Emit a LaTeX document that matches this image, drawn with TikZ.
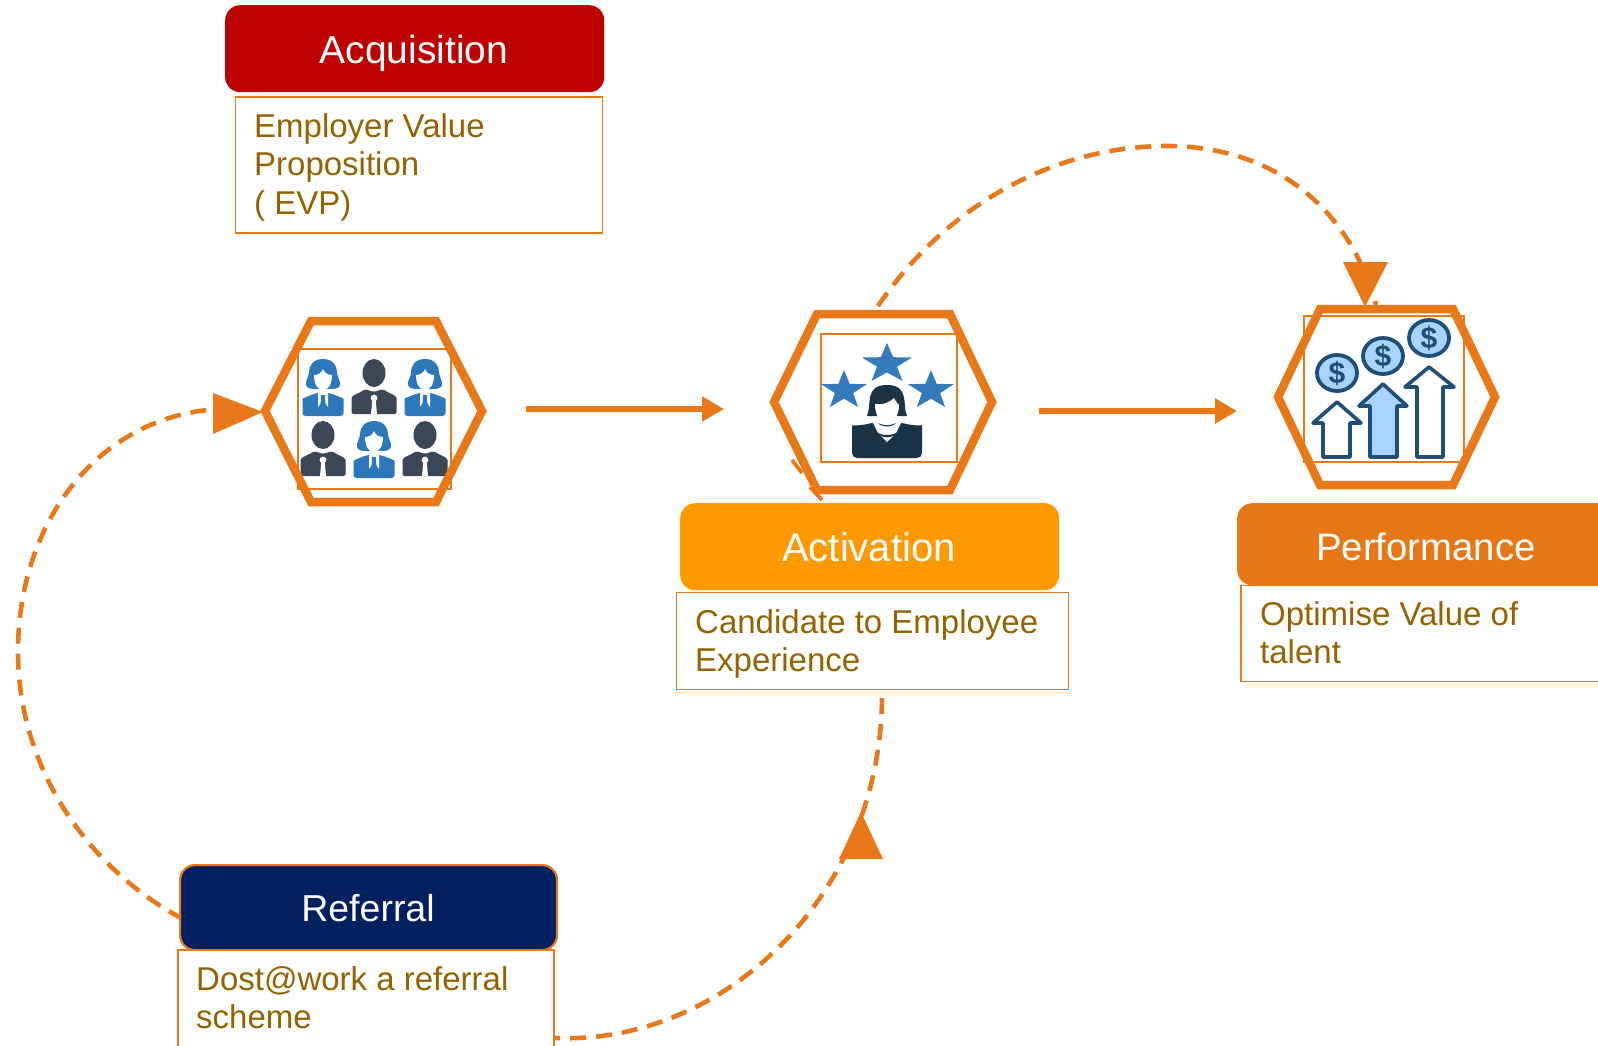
\documentclass[tikz,border=0pt]{standalone}
\usepackage{fontspec}
\setmainfont{Liberation Sans}
\usetikzlibrary{arrows.meta,shapes.geometric}
\definecolor{orangeline}{HTML}{E87818}
\definecolor{bodytext}{HTML}{946300}
\definecolor{acqred}{HTML}{BD0000}
\definecolor{actamber}{HTML}{FF9900}
\definecolor{perforange}{HTML}{E57716}
\definecolor{refnavy}{HTML}{002060}
\definecolor{peopleblue}{HTML}{2C78BA}
\definecolor{peopledark}{HTML}{3B4656}
\definecolor{starblue}{HTML}{357ABA}
\definecolor{persondark}{HTML}{1B3347}
\definecolor{moneyline}{HTML}{1F4E79}
\definecolor{moneyfill}{HTML}{A6D4FF}
\tikzset{
  x=1pt,y=-1pt,
  titlebox/.style={rounded corners=15pt,inner sep=0},
  textbox/.style={draw=orangeline,line width=1.9pt,fill=white},
  innerbox/.style={draw=orangeline,line width=1.6pt,fill=white},
  titletext/.style={text=white,font=\fontsize{39}{46}\selectfont,inner sep=0},
  bodylabel/.style={text=bodytext,font=\fontsize{33}{38.3}\selectfont,align=left,inner sep=0,anchor=north west},
  hexline/.style={draw=orangeline,line width=8.5pt,line join=miter},
  flow/.style={draw=orangeline,line width=6pt,-{Triangle[length=22pt,width=24pt]}},
  dashcurve/.style={draw=orangeline,line width=4.6pt,dash pattern=on 16pt off 10pt},
  stray/.style={draw=orangeline,line width=3.8pt},
  tip/.style={fill=orangeline,draw=none},
  coin/.style={ellipse,draw=moneyline,line width=3.8pt,fill=moneyfill,minimum width=40pt,minimum height=36pt,inner sep=0,text=moneyline,font=\bfseries\fontsize{30}{30}\selectfont},
  risearrow/.style={draw=moneyline,line width=3.6pt,line join=round},
  pics/staricon/.style={code={
    \fill[starblue] (0,-1) -- (0.235,-0.324) -- (0.951,-0.309) -- (0.380,0.124) -- (0.588,0.809) -- (0,0.4) -- (-0.588,0.809) -- (-0.380,0.124) -- (-0.951,-0.309) -- (-0.235,-0.324) -- cycle;
  }},
  pics/manicon/.style={code={
    \fill[peopledark] (0,0) ellipse [x radius=11.5,y radius=14];
    \fill[peopledark,rounded corners=2pt] (-22.5,41) -- (-22.5,27) .. controls (-22.5,22) and (-14,20) .. (-9,16) -- (0,19) -- (9,16) .. controls (14,20) and (22.5,22) .. (22.5,27) -- (22.5,41) -- cycle;
    \fill[white] (0,25) circle [radius=3.4];
    \fill[white] (-1.6,26) -- (1.6,26) -- (3,41) -- (-3,41) -- cycle;
  }},
  pics/womanicon/.style={code={
    \fill[peopleblue] (0,-16) .. controls (10,-16) and (14,-9) .. (14,-3) .. controls (14,2) and (18,6) .. (17,10) .. controls (16,14) and (10,14) .. (7,14) -- (-7,14) .. controls (-10,14) and (-16,14) .. (-17,10) .. controls (-18,6) and (-14,2) .. (-14,-3) .. controls (-14,-9) and (-10,-16) .. (0,-16) -- cycle;
    \fill[white] (-9,0) .. controls (-4,0) and (-1,-3) .. (0,-6) .. controls (1,-3) and (4,0) .. (9,0) .. controls (9,8) and (6,15) .. (0,15) .. controls (-6,15) and (-9,8) .. (-9,0) -- cycle;
    \fill[peopleblue,rounded corners=3pt] (-20.5,41) -- (-20.5,27) .. controls (-20.5,23) and (-14,21) .. (-7,18) -- (7,18) .. controls (14,21) and (20.5,23) .. (20.5,27) -- (20.5,41) -- cycle;
    \fill[white] (-5,14) -- (5,14) -- (5,32) -- (1,26) -- (-1,26) -- (-5,32) -- cycle;
    \fill[peopleblue] (-2,20) -- (2,20) -- (2.5,33) -- (0,36) -- (-2.5,33) -- cycle;
  }},
}
\begin{document}
\begin{tikzpicture}
\useasboundingbox (0,0) rectangle (1598,1045);
\clip (0,0) rectangle (1598,1045);

% dashed connectors (below boxes)
\coordinate (topstart) at (878,306);
\coordinate (toppeak) at (1167,146);
\coordinate (topend) at (1376,305);
\draw[dashcurve] (topstart) .. controls (950,200) and (1060,146) .. (toppeak) .. controls (1280,146) and (1352,215) .. (topend);
\coordinate (leftstart) at (183,919);
\coordinate (leftmid) at (18,652);
\coordinate (leftend) at (220,409);
\draw[dashcurve] (leftstart) .. controls (90,870) and (18,770) .. (leftmid) .. controls (18,520) and (100,415) .. (leftend);
\coordinate (botstart) at (555,1038);
\coordinate (botend) at (882,698);
\draw[dashcurve] (botend) .. controls (880,900) and (720,1045) .. (botstart);

% title boxes and text boxes
\node[titlebox,fill=acqred,minimum width=379pt,minimum height=87pt,anchor=north west] (acq) at (225,5) {};
\node[titletext] (acqt) at (414,53) {Acquisition};
\node[textbox,minimum width=367pt,minimum height=136pt,anchor=north west] (evp) at (234.5,96) {};
\node[bodylabel] (evpt) at (254,113.5) {Employer Value\\Proposition\\( EVP)};

\node[titlebox,fill=actamber,minimum width=379pt,minimum height=87pt,anchor=north west] (act) at (680,503) {};
\node[titletext,font=\fontsize{40}{46}\selectfont] (actt) at (869,547) {Activation};
\node[textbox,minimum width=392pt,minimum height=97pt,anchor=north west] (cand) at (675.5,591.5) {};
\node[bodylabel] (candt) at (695,609.5) {Candidate to Employee\\Experience};

\node[titlebox,fill=perforange,minimum width=420pt,minimum height=82pt,anchor=north west] (perf) at (1237,503) {};
\node[titletext,font=\fontsize{38.3}{46}\selectfont] (perft) at (1426,547) {Performance};
\node[textbox,minimum width=380pt,minimum height=96pt,anchor=north west] (opt) at (1240,584.5) {};
\node[bodylabel] (optt) at (1260,601.5) {Optimise Value of\\talent};

\node[titlebox,fill=refnavy,draw=orangeline,line width=2.2pt,minimum width=377pt,minimum height=85pt,anchor=north west] (ref) at (179,864) {};
\node[titletext,font=\fontsize{37.5}{46}\selectfont] (reft) at (368,908) {Referral};
\node[textbox,minimum width=376pt,minimum height=110pt,anchor=north west] (dost) at (177,949) {};
\node[bodylabel] (dostt) at (196,966.5) {Dost@work a referral\\scheme};

% hexagon 1 with people
\node[innerbox,minimum width=153pt,minimum height=140pt,anchor=north west] (ib1) at (297,348) {};
\pic at (323,375) {womanicon};
\pic at (374,373) {manicon};
\pic at (425,375) {womanicon};
\pic at (323,435) {manicon};
\pic at (374,437) {womanicon};
\pic at (425,435) {manicon};
\draw[hexline] (265,411) -- (311,321) -- (436,321) -- (482,411) -- (436,502) -- (311,502) -- cycle;

% hexagon 2 with stars and person
\node[innerbox,minimum width=136pt,minimum height=128pt,anchor=north west] (ib2) at (820,333) {};
\pic[xscale=26.3,yscale=21] at (887,364) {staricon};
\pic[xscale=24,yscale=20.5] at (844,390.5) {staricon};
\pic[xscale=24,yscale=20.5] at (931,390.5) {staricon};
\fill[persondark] (867,416) .. controls (872,405) and (864,385) .. (887,385) .. controls (910,385) and (902,405) .. (907,416) -- cycle;
\fill[white] (875,404) .. controls (884,405) and (890,402) .. (894,398) .. controls (896,402) and (898,404) .. (899,405) .. controls (899,412) and (896,423) .. (887,424) .. controls (878,423) and (875,412) .. (875,404) -- cycle;
\fill[persondark,rounded corners=5pt] (852,458) -- (852,430) .. controls (852,426) and (865,425) .. (874,422) -- (887,426) -- (900,422) .. controls (909,425) and (922,426) .. (922,430) -- (922,458) -- cycle;
\fill[white] (873,423) -- (877,422) .. controls (880,428) and (894,428) .. (897,422) -- (901,423) -- (896,433) -- (887,442) -- (878,433) -- cycle;
\fill[persondark] (876,432) .. controls (882,436) and (892,436) .. (898,432) -- (895,435) .. controls (890,438) and (884,438) .. (879,435) -- cycle;
\draw[hexline] (774,402) -- (817,314) -- (950,314) -- (992,402) -- (950,490) -- (817,490) -- cycle;
\coordinate (st1) at (792,460); \coordinate (st2) at (802,473);
\coordinate (st3) at (810,487); \coordinate (st4) at (822,500);
\draw[stray] (st1) -- (st2);
\draw[stray] (st3) -- (st4);

% hexagon 3 with money
\node[innerbox,minimum width=160pt,minimum height=146pt,anchor=north west] (ib3) at (1303,315) {};
\node[coin] (c1) at (1337,373) {\$};
\node[coin] (c2) at (1383,356) {\$};
\node[coin] (c3) at (1429,338) {\$};
\draw[risearrow,fill=white] (1337,402) -- (1361,423) -- (1350,423) -- (1350,457) -- (1323,457) -- (1323,423) -- (1313,423) -- cycle;
\draw[risearrow,fill=moneyfill] (1383,384) -- (1407,406) -- (1397,406) -- (1397,457) -- (1370,457) -- (1370,406) -- (1359,406) -- cycle;
\draw[risearrow,fill=white] (1429,367) -- (1454,387) -- (1443,387) -- (1443,457) -- (1417,457) -- (1417,387) -- (1405,387) -- cycle;
\draw[hexline] (1278,397) -- (1320,309) -- (1453,309) -- (1495,397) -- (1453,485) -- (1320,485) -- cycle;

% arrow heads on dashed connectors
\fill[tip] (1343,262) -- (1388,262) -- (1365,307) -- cycle;
\fill[tip] (213,393) -- (263,412) -- (213,434) -- cycle;
\fill[tip] (861,812) -- (883,859) -- (839,859) -- cycle;

% flow arrows
\coordinate (f1a) at (526,409); \coordinate (f1b) at (724,409);
\coordinate (f2a) at (1039,411); \coordinate (f2b) at (1237,411);
\draw[flow] (f1a) -- (f1b);
\draw[flow] (f2a) -- (f2b);
\end{tikzpicture}
\end{document}
